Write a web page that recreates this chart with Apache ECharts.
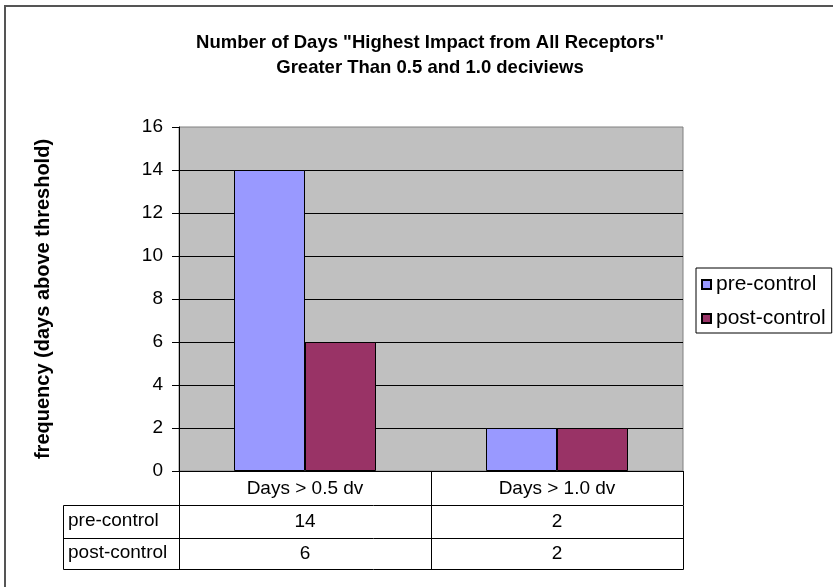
<!DOCTYPE html>
<html>
<head>
<meta charset="utf-8">
<script src="https://cdn.jsdelivr.net/npm/echarts@6/dist/echarts.min.js"></script>
<style>
  html, body { margin: 0; padding: 0; background: #fff; }
  #main { width: 833px; height: 587px; }
</style>
</head>
<body>
<div id="main"></div>
<script>
const categories = ['Days > 0.5 dv', 'Days > 1.0 dv']
const seriesNames = ['pre-control', 'post-control']
const preControl = [14, 2]
const postControl = [6, 2]
const yMax = 16
const yStep = 2

const FONT = 'Liberation Sans, Arial, sans-serif'
const chart = echarts.init(document.getElementById('main'))

chart.setOption({
  animation: false,
  backgroundColor: '#fff',
  textStyle: { fontFamily: FONT, color: '#000' },
  title: {
    text: 'Number of Days "Highest Impact from All Receptors"\nGreater Than 0.5 and 1.0 deciviews',
    left: 425,
    top: 25,
    textAlign: 'center',
    textStyle: { fontFamily: FONT, fontSize: 18.5, fontWeight: 'bold', lineHeight: 25, color: '#000' }
  },
  legend: {
    orient: 'vertical',
    left: 696,
    top: 268,
    icon: 'rect',
    itemWidth: 9,
    itemHeight: 9,
    itemGap: 13,
    padding: [6, 6, 4, 5],
    borderColor: '#000',
    borderWidth: 1,
    textStyle: { fontFamily: FONT, fontSize: 21, color: '#000', lineHeight: 21 },
    data: seriesNames
  },
  grid: {
    left: 179,
    right: 150,
    top: 127,
    bottom: 116,
    show: true,
    backgroundColor: '#C0C0C0',
    borderColor: '#808080',
    borderWidth: 1
  },
  xAxis: {
    type: 'category',
    data: categories,
    axisLine: { lineStyle: { color: '#000', width: 1 } },
    axisTick: { show: true, length: 34, lineStyle: { color: '#000' } },
    axisLabel: { fontFamily: FONT, fontSize: 19, color: '#000', margin: 8 }
  },
  yAxis: {
    type: 'value',
    min: 0,
    max: yMax,
    interval: yStep,
    name: 'frequency (days above threshold)',
    nameLocation: 'middle',
    nameGap: 126,
    nameTextStyle: { fontFamily: FONT, fontSize: 20, fontWeight: 'bold', color: '#000' },
    axisLine: { show: true, lineStyle: { color: '#000' } },
    axisTick: { show: true, length: 7, lineStyle: { color: '#000' } },
    axisLabel: { fontFamily: FONT, fontSize: 19, color: '#000', margin: 16 },
    splitLine: { show: true, showMaxLine: false, lineStyle: { color: '#000', width: 1 } }
  },
  series: [
    {
      name: seriesNames[0],
      type: 'bar',
      barWidth: 71,
      barGap: '0%',
      itemStyle: { color: '#9999FF', borderColor: '#000', borderWidth: 1 },
      data: preControl
    },
    {
      name: seriesNames[1],
      type: 'bar',
      barWidth: 71,
      barGap: '0%',
      itemStyle: { color: '#993366', borderColor: '#000', borderWidth: 1 },
      data: postControl
    }
  ]
})

// data table under the plot
const centers = categories.map(c => chart.convertToPixel({ xAxisIndex: 0 }, c))
const band = centers.length > 1 ? centers[1] - centers[0] : 504
const colEdges = [centers[0] - band / 2].concat(centers.map(c => c + band / 2))
const y0 = chart.convertToPixel({ yAxisIndex: 0 }, 0)
const tableLeft = 63
const rowTops = [y0 + 34, y0 + 67, y0 + 98]
const tableRows = [
  { name: seriesNames[0], values: preControl },
  { name: seriesNames[1], values: postControl }
]
const px = v => Math.round(v) + 0.5
const line = (x1, y1, x2, y2) => ({
  type: 'line',
  shape: { x1: px(x1), y1: px(y1), x2: px(x2), y2: px(y2) },
  style: { stroke: '#000', lineWidth: 1 },
  silent: true
})
const graphics = []
rowTops.forEach(y => graphics.push(line(tableLeft, y, colEdges[colEdges.length - 1], y)))
;[tableLeft].concat(colEdges).forEach(x => graphics.push(line(x, rowTops[0], x, rowTops[rowTops.length - 1])))
tableRows.forEach((row, r) => {
  const cy = (rowTops[r] + rowTops[r + 1]) / 2
  graphics.push({
    type: 'text', left: tableLeft + 5, top: cy - 10, silent: true,
    style: { text: row.name, font: '19px ' + FONT, fill: '#000' }
  })
  row.values.forEach((v, i) => {
    graphics.push({
      type: 'text', x: centers[i], y: cy, silent: true,
      style: { text: String(v), font: '19px ' + FONT, fill: '#000', align: 'center', verticalAlign: 'middle' }
    })
  })
})
// outer chart frame (top and left edges visible)
graphics.push({
  type: 'polyline',
  shape: { points: [[5, 587], [5, 6], [833, 6]] },
  style: { stroke: '#555', lineWidth: 2, fill: null },
  silent: true
})
chart.setOption({ graphic: graphics })
</script>
</body>
</html>
